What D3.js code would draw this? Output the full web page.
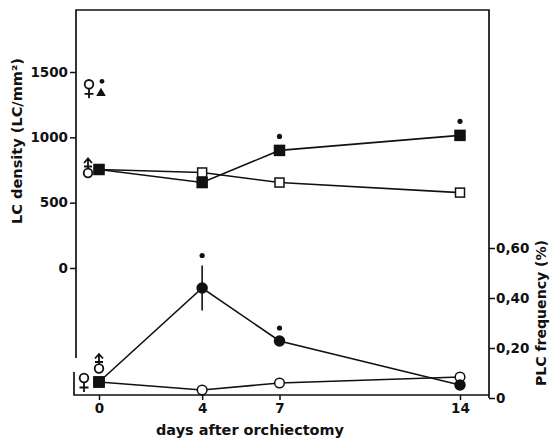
<!DOCTYPE html>
<html lang="en">
<head>
<meta charset="utf-8">
<title>LC density and PLC frequency</title>
<style>
  body { margin: 0; background: #fff; }
  text { font-family: "DejaVu Sans", sans-serif; fill: #111; }
  .tick text { font-size: 13.5px; font-weight: bold; }
  .tick line { stroke: #111; stroke-width: 1.5; }
  .title { font-size: 14px; font-weight: bold; }
</style>
</head>
<body>
<div id="chart"></div>
<script src="https://cdnjs.cloudflare.com/ajax/libs/d3/7.8.5/d3.min.js"></script>
<script>
  // data
  const days = [0, 4, 7, 14];
  const lcFilled = [754, 654, 900, 1015];   // LC/mm2, filled squares
  const lcOpen = [754, 731, 654, 577];      // LC/mm2, open squares
  const plcFilled = [0.064, 0.44, 0.228, 0.052]; // %, filled circles
  const plcOpen = [0.064, 0.032, 0.06, 0.084];   // %, open circles
  const plcFilledErr = [0, 0.09, 0, 0];
  const lcStars = [7, 14];
  const plcStars = [4, 7];
  const lcTicks = [0, 500, 1000, 1500];
  const plcTicks = [0, 0.2, 0.4, 0.6];
  const plcTickLabels = ["0", "0,20", "0,40", "0,60"];
  const femaleLC = 1360; // female reference value (filled triangle)

  const width = 559, height = 438;
  const svg = d3.select("#chart").append("svg")
    .attr("width", width).attr("height", height);

  const x = d3.scaleLinear().domain([0, 14]).range([99, 460]);
  const yL = d3.scaleLinear().domain([0, 1500]).range([268, 72]);
  const yR = d3.scaleLinear().domain([0, 0.6]).range([398, 248]);

  const axLeft = 76, axRight = 489, axTop = 10, axBottom = 395;
  const ink = "#111";

  // frame and broken left axis
  const frame = svg.append("g").attr("stroke", ink).attr("stroke-width", 1.7).attr("fill", "none");
  frame.append("path").attr("d", `M${axLeft},358 V${axTop} H${axRight} V${yR(0)}`);
  frame.append("path").attr("d", `M${axLeft - 2},372 V${axBottom} H${axRight}`);

  // left axis
  const axL = svg.append("g").attr("transform", `translate(${axLeft},0)`)
    .call(d3.axisLeft(yL).tickValues(lcTicks).tickSize(6).tickPadding(2).tickFormat(d3.format("d")));
  axL.select(".domain").remove();

  // right axis
  const axR = svg.append("g").attr("transform", `translate(${axRight},0)`)
    .call(d3.axisRight(yR).tickValues(plcTicks).tickSize(6).tickPadding(1)
      .tickFormat((d, i) => plcTickLabels[i]));
  axR.select(".domain").remove();

  // bottom axis
  const axB = svg.append("g").attr("transform", `translate(0,${axBottom})`)
    .call(d3.axisBottom(x).tickValues(days).tickSize(5).tickPadding(3).tickFormat(d3.format("d")));
  axB.select(".domain").remove();

  // titles
  svg.append("text").attr("class", "title")
    .attr("transform", `translate(17,141) rotate(-90)`)
    .attr("text-anchor", "middle").attr("dy", "0.35em")
    .attr("textLength", 166).attr("lengthAdjust", "spacingAndGlyphs")
    .text("LC density (LC/mm²)");
  svg.append("text").attr("class", "title")
    .attr("transform", `translate(541,313) rotate(-90)`)
    .attr("text-anchor", "middle").attr("dy", "0.35em")
    .attr("textLength", 146).attr("lengthAdjust", "spacingAndGlyphs")
    .text("PLC frequency (%)");
  svg.append("text").attr("class", "title")
    .attr("x", 250).attr("y", 435).attr("text-anchor", "middle")
    .attr("textLength", 188).attr("lengthAdjust", "spacingAndGlyphs")
    .text("days after orchiectomy");

  const line = (yScale) => d3.line().x((d, i) => x(days[i])).y(d => yScale(d));

  const series = [
    { vals: lcOpen, y: yL, shape: "square", fill: "#fff" },
    { vals: lcFilled, y: yL, shape: "square", fill: ink },
    { vals: plcOpen, y: yR, shape: "circle", fill: "#fff" },
    { vals: plcFilled, y: yR, shape: "circle", fill: ink }
  ];

  series.forEach(s => {
    svg.append("path").datum(s.vals)
      .attr("d", line(s.y))
      .attr("fill", "none").attr("stroke", ink).attr("stroke-width", 1.6);
  });

  // error bar
  days.forEach((d, i) => {
    if (plcFilledErr[i] > 0) {
      svg.append("line")
        .attr("x1", x(d)).attr("x2", x(d))
        .attr("y1", yR(plcFilled[i] + plcFilledErr[i]))
        .attr("y2", yR(plcFilled[i] - plcFilledErr[i]))
        .attr("stroke", ink).attr("stroke-width", 1.6);
    }
  });

  series.forEach(s => {
    const g = svg.append("g");
    s.vals.forEach((v, i) => {
      // at day 0 the two PLC values coincide: drawn as one filled square
      const sq = s.shape === "square" || (s.y === yR && i === 0);
      const fill = (s.y === yR && i === 0) ? ink : s.fill;
      if (sq) {
        const sz = fill === ink ? 10 : 9;
        g.append("rect")
          .attr("x", x(days[i]) - sz / 2).attr("y", s.y(v) - sz / 2)
          .attr("width", sz).attr("height", sz)
          .attr("fill", fill).attr("stroke", ink).attr("stroke-width", 1.5);
      } else {
        g.append("circle")
          .attr("cx", x(days[i])).attr("cy", s.y(v))
          .attr("r", fill === ink ? 5 : 4.8)
          .attr("fill", fill).attr("stroke", ink).attr("stroke-width", 1.5);
      }
    });
  });

  // significance marks
  lcStars.forEach(d => {
    const i = days.indexOf(d);
    svg.append("circle").attr("cx", x(d)).attr("cy", yL(lcFilled[i]) - 14)
      .attr("r", 2.6).attr("fill", ink);
  });
  plcStars.forEach(d => {
    const i = days.indexOf(d);
    svg.append("circle").attr("cx", x(d))
      .attr("cy", yR(plcFilled[i] + plcFilledErr[i]) - 10 - (plcFilledErr[i] > 0 ? 0 : 3))
      .attr("r", 2.6).attr("fill", ink);
  });

  // sex symbols: female = ring over cross, male = ring under arrow
  function female(cx, cy) {
    const g = svg.append("g").attr("stroke", ink).attr("stroke-width", 1.8).attr("fill", "none");
    g.append("circle").attr("cx", cx).attr("cy", cy - 4).attr("r", 4.3);
    g.append("path").attr("d", `M${cx},${cy + 0.3} V${cy + 10} M${cx - 4.5},${cy + 5.5} H${cx + 4.5}`);
  }
  function male(cx, cy) {
    const g = svg.append("g").attr("stroke", ink).attr("stroke-width", 1.8).attr("fill", "none");
    g.append("circle").attr("cx", cx).attr("cy", cy + 4.5).attr("r", 4.3);
    g.append("path").attr("d", `M${cx},${cy + 0.2} V${cy - 10} M${cx - 4},${cy - 5.5} L${cx},${cy - 10} L${cx + 4},${cy - 5.5} M${cx - 4},${cy - 2} H${cx + 4}`);
  }

  female(89, yL(femaleLC) - 2);
  svg.append("path")
    .attr("d", d3.symbol(d3.symbolTriangle, 40)())
    .attr("transform", `translate(101,${yL(femaleLC) + 3})`).attr("fill", ink);
  svg.append("circle").attr("cx", 102).attr("cy", yL(femaleLC) - 9).attr("r", 2.4).attr("fill", ink);

  male(88, yL(lcOpen[0]) - 1);
  female(84, yR(plcOpen[0]) + 0);
  male(x(0), yR(plcOpen[0]) - 18);
</script>
</body>
</html>
